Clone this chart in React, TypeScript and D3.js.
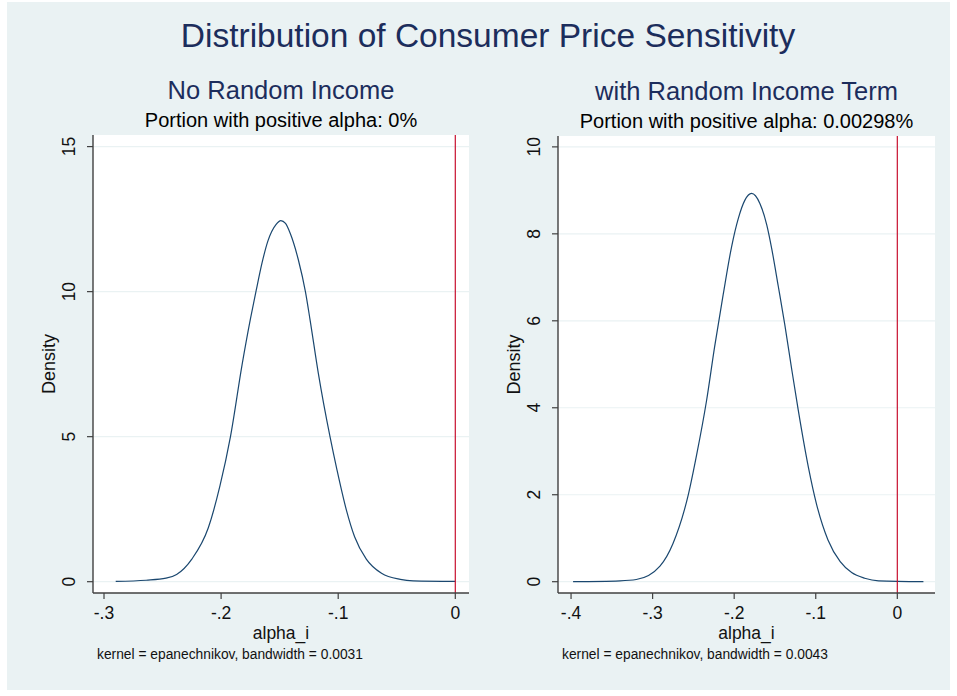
import React from 'react'
import * as d3 from 'd3'

const WIDTH = 957
const HEIGHT = 696
const FONT = '"Liberation Sans", Arial, sans-serif'

const BG = '#eaf2f3'
const TITLE_COLOR = '#1c2d5c'
const LINE_COLOR = '#1a476f'
const XLINE_COLOR = '#c8102e'
const AXIS_COLOR = '#404040'

const titles = ['No Random Income', 'with Random Income Term']
const subtitles = ['Portion with positive alpha: 0%', 'Portion with positive alpha: 0.00298%']
const notes = ['kernel = epanechnikov, bandwidth = 0.0031', 'kernel = epanechnikov, bandwidth = 0.0043']

// kernel density, panel 1 (no random income)
const leftAlpha = [
  -0.290, -0.264, -0.247, -0.238, -0.225, -0.211, -0.201, -0.192, -0.182, -0.175,
  -0.170, -0.165, -0.160, -0.153, -0.149, -0.145, -0.141, -0.134, -0.128, -0.124,
  -0.117, -0.107, -0.101, -0.093, -0.086, -0.076, -0.063, -0.047, -0.036, 0.000,
]
const leftDensity = [
  0.01, 0.05, 0.12, 0.25, 0.78, 1.85, 3.30, 5.00, 7.50, 9.05,
  10.05, 11.0, 11.75, 12.32, 12.45, 12.35, 12.01, 11.09, 10.0, 9.02,
  7.19, 5.00, 3.85, 2.47, 1.55, 0.78, 0.29, 0.08, 0.03, 0.01,
]

// kernel density, panel 2 (with random income term)
const rightAlpha = [
  -0.3975, -0.340, -0.320, -0.291, -0.275, -0.256, -0.246, -0.234, -0.224, -0.2135,
  -0.203, -0.195, -0.187, -0.1787, -0.1685, -0.160, -0.154, -0.146, -0.138, -0.1296,
  -0.1215, -0.109, -0.099, -0.085, -0.070, -0.056, -0.040, -0.023, 0.032,
]
const rightDensity = [
  0.0, 0.02, 0.05, 0.36, 0.88, 2.02, 2.92, 4.15, 5.40, 6.60,
  7.72, 8.35, 8.77, 8.93, 8.70, 8.20, 7.66, 6.80, 5.92, 4.90,
  3.95, 2.63, 1.78, 0.96, 0.46, 0.21, 0.08, 0.02, 0.0,
]

const leftXTicks = [-0.3, -0.2, -0.1, 0]
const rightXTicks = [-0.4, -0.3, -0.2, -0.1, 0]
const leftYTicks = [0, 5, 10, 15]
const rightYTicks = [0, 2, 4, 6, 8, 10]

// Stata style: -.3, -.2, 0
const fmtX = (v: number) =>
  v === 0 ? '0' : d3.format('.1f')(v).replace('\u2212', '-').replace('0.', '.')

type PanelProps = {
  left: number
  right: number
  top: number
  bottom: number
  xDomain: [number, number]
  yDomain: [number, number]
  xTicks: number[]
  yTicks: number[]
  alpha: number[]
  density: number[]
  title: string
  subtitle: string
  note: string
}

function Panel(p: PanelProps) {
  const x = d3.scaleLinear().domain(p.xDomain).range([p.left, p.right])
  const y = d3.scaleLinear().domain(p.yDomain).range([p.bottom, p.top])
  const pts = p.alpha.map((a, i) => [a, p.density[i]] as [number, number])
  const line = d3.line<[number, number]>()
    .x(d => x(d[0]))
    .y(d => y(d[1]))
    .curve(d3.curveMonotoneX)
  const cx = (p.left + p.right) / 2
  const cy = (p.top + p.bottom) / 2

  return (
    <g fontFamily={FONT}>
      <rect x={p.left} y={p.top} width={p.right - p.left} height={p.bottom - p.top} fill="#fff" />
      {p.yTicks.map(t => (
        <line key={'g' + t} x1={p.left} x2={p.right} y1={y(t)} y2={y(t)} stroke={BG} strokeWidth={1.2} />
      ))}
      <path d={line(pts) || ''} fill="none" stroke={LINE_COLOR} strokeWidth={1.2} />
      <line x1={x(0)} x2={x(0)} y1={p.top} y2={p.bottom} stroke={XLINE_COLOR} strokeWidth={1.2} />

      {/* y axis */}
      <line x1={p.left} x2={p.left} y1={p.top} y2={p.bottom} stroke={AXIS_COLOR} strokeWidth={1.4} />
      {p.yTicks.map(t => (
        <g key={'y' + t} transform={`translate(${p.left},${y(t)})`}>
          <line x1={-6} x2={0} stroke={AXIS_COLOR} strokeWidth={1.2} />
          <text transform="translate(-18,0) rotate(-90)" textAnchor="middle" fontSize={17.5} fill="#111">
            {t}
          </text>
        </g>
      ))}
      <text transform={`translate(${p.left - 38},${cy}) rotate(-90)`} textAnchor="middle" fontSize={18} fill="#111">
        Density
      </text>

      {/* x axis */}
      <line x1={p.left} x2={p.right} y1={p.bottom} y2={p.bottom} stroke={AXIS_COLOR} strokeWidth={1.4} />
      {p.xTicks.map(t => (
        <g key={'x' + t} transform={`translate(${x(t)},${p.bottom})`}>
          <line y1={0} y2={6} stroke={AXIS_COLOR} strokeWidth={1.2} />
          <text y={26} textAnchor="middle" fontSize={17.5} fill="#111">{fmtX(t)}</text>
        </g>
      ))}
      <text x={cx} y={p.bottom + 46} textAnchor="middle" fontSize={17.5} fill="#111">alpha_i</text>
      <text x={p.left + 4} y={p.bottom + 66} fontSize={13.8} fill="#111">{p.note}</text>

      {/* titles */}
      <text x={cx} y={p.top - 36} textAnchor="middle" fontSize={25.5} fill={TITLE_COLOR}>{p.title}</text>
      <text x={cx} y={p.top - 8} textAnchor="middle" fontSize={20} fill="#000">{p.subtitle}</text>
    </g>
  )
}

export default function App() {
  return (
    <svg width={WIDTH} height={HEIGHT} style={{ position: 'absolute', left: 0, top: 0 }}>
      <rect x={0} y={0} width={WIDTH} height={HEIGHT} fill="#fff" />
      <rect x={7} y={2} width={943} height={688} fill={BG} />
      <text x={488} y={47} textAnchor="middle" fontSize={33.5} fontFamily={FONT} fill={TITLE_COLOR}>
        Distribution of Consumer Price Sensitivity
      </text>
      <Panel
        left={93} right={469} top={135} bottom={593}
        xDomain={[-0.3094, 0.0117]} yDomain={[-0.39, 15.4]}
        xTicks={leftXTicks} yTicks={leftYTicks}
        alpha={leftAlpha} density={leftDensity}
        title={titles[0]} subtitle={subtitles[0]} note={notes[0]}
      />
      <Panel
        left={558} right={935} top={136} bottom={593}
        xDomain={[-0.416, 0.0462]} yDomain={[-0.26, 10.25]}
        xTicks={rightXTicks} yTicks={rightYTicks}
        alpha={rightAlpha} density={rightDensity}
        title={titles[1]} subtitle={subtitles[1]} note={notes[1]}
      />
    </svg>
  )
}
